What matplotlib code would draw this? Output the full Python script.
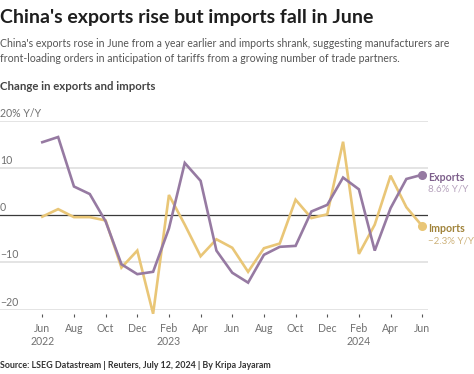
import matplotlib
matplotlib.use("Agg")
import matplotlib.pyplot as plt
import numpy as np

plt.rcParams['font.family'] = ['Lato', 'DejaVu Sans']

months = ["Jun", "Jul", "Aug", "Sep", "Oct", "Nov", "Dec",
          "Jan", "Feb", "Mar", "Apr", "May", "Jun", "Jul", "Aug", "Sep", "Oct", "Nov", "Dec",
          "Jan", "Feb", "Mar", "Apr", "May", "Jun"]
tick_labels = ["Jun\n2022", "Aug", "Oct", "Dec", "Feb\n2023", "Apr", "Jun",
               "Aug", "Oct", "Dec", "Feb\n2024", "Apr", "Jun"]

exports = [15.5, 16.6, 6.1, 4.5, -1.3, -10.4, -12.5,
           -12.0, -2.8, 11.1, 7.3, -7.5, -12.2, -14.3, -8.4, -6.7, -6.5, 0.8, 2.2,
           8.0, 5.5, -7.5, 1.5, 7.7, 8.6]
imports = [-0.3, 1.3, -0.4, -0.4, -1.1, -11.1, -7.5,
           -20.9, 4.3, -2.0, -8.7, -5.1, -6.9, -12.0, -7.0, -6.0, 3.3, -0.6, 0.2,
           15.6, -8.2, -2.0, 8.4, 1.7, -2.3]

yticks = [20, 10, 0, -10, -20]
ytick_labels = ["20% Y/Y", "10", "0", "\u221210", "\u221220"]

purple = "#967aa2"
gold = "#e9c677"

W, H = 474, 374
fig = plt.figure(figsize=(W / 100, H / 100), dpi=100)

def px(x, y):
    return x / W, 1 - y / H

# axes placed in pixel coordinates
left, right, top, bottom = 0, 428, 121, 309.5
ax = fig.add_axes([left / W, 1 - bottom / H, (right - left) / W, (bottom - top) / H])

x = np.arange(len(months))
ax.set_xlim(-42.3 / 15.83, (right - 42.3) / 15.83)
ax.set_ylim(-20, 20)

for v in yticks:
    if v == 0:
        ax.axhline(v, color="#3a3a3a", lw=0.9, zorder=2)
    else:
        ax.axhline(v, color="#dcdcdc", lw=1.1, zorder=1)

ax.plot(x, imports, color=gold, lw=1.9, zorder=3, clip_on=False, solid_joinstyle="miter")
ax.plot(x, exports, color=purple, lw=1.9, zorder=4, clip_on=False, solid_joinstyle="miter")
ax.plot(x[-1], imports[-1], "o", color=gold, ms=5.5, zorder=5, clip_on=False)
ax.plot(x[-1], exports[-1], "o", color=purple, ms=5.5, zorder=5, clip_on=False)

for s in ax.spines.values():
    s.set_visible(False)
ax.spines['bottom'].set_position(('outward', 3))
ax.set_yticks([])
ax.set_xticks(x[::2])
ax.set_xticklabels(tick_labels, fontsize=7.6, color="#707070", linespacing=1.25)
ax.tick_params(axis='x', length=2.5, width=0.8, color="#555555", pad=4)

# y labels sit just above gridlines
for v, lab in zip(yticks, ytick_labels):
    yy = 215.3 - v * 4.71
    fig.text(*px(0, yy - 2), lab, fontsize=7.6, color="#707070", va="bottom", ha="left",
             bbox=dict(facecolor="white", edgecolor="none", pad=0.5) if v != 20 else None,
             zorder=6)

# end labels
fig.text(*px(428, 177.5), "Exports", fontsize=7.7, fontweight="bold", color="#7d5f8b", va="center")
fig.text(*px(428, 189.5), "8.6% Y/Y", fontsize=7.0, color="#b6a2bd", va="center")
fig.text(*px(428, 229), "Imports", fontsize=7.7, fontweight="bold", color="#a0833a", va="center")
fig.text(*px(428, 241), "\u22122.3% Y/Y", fontsize=7.0, color="#cdb27a", va="center")

# header texts
fig.text(*px(0, 17), "China's exports rise but imports fall in June", fontsize=14.0,
         fontweight="bold", color="#1e1e1e", va="center")
fig.text(*px(0, 51), "China's exports rose in June from a year earlier and imports shrank, suggesting manufacturers are\n"
         "front-loading orders in anticipation of tariffs from a growing number of trade partners.",
         fontsize=7.6, color="#555555", va="center", linespacing=1.45)
fig.text(*px(0, 86.5), "Change in exports and imports", fontsize=8.2, fontweight="bold",
         color="#444444", va="center")
fig.text(*px(0, 366), "Source: LSEG Datastream | Reuters, July 12, 2024 | By Kripa Jayaram",
         fontsize=6.4, fontweight="bold", color="#333333", va="center")

fig.savefig("out.png", dpi=100, facecolor="white")
